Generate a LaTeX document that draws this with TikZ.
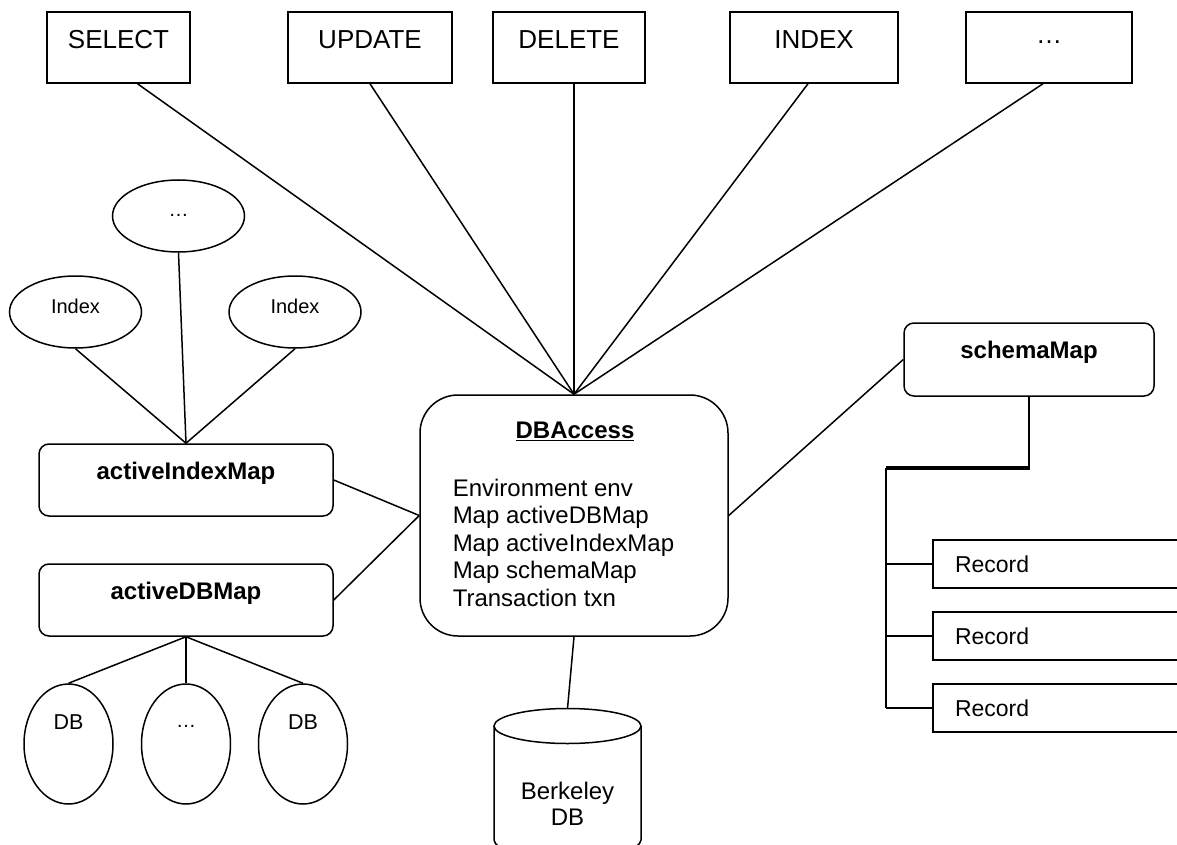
\documentclass[tikz,border=0pt]{standalone}
\usepackage{fontspec}
\setmainfont{Liberation Sans}
\usetikzlibrary{shapes.geometric,calc}
\begin{document}
\begin{tikzpicture}[x=1pt,y=-1pt,line width=1.5pt,
  opbox/.style={draw,rectangle,inner sep=0pt,minimum height=71pt},
  optext/.style={font=\fontsize{26}{30}\selectfont},
  mapbox/.style={draw,rectangle,rounded corners=10pt,inner sep=0pt,minimum width=294pt,minimum height=72pt},
  maptext/.style={font=\bfseries\fontsize{24}{28}\selectfont},
  idxell/.style={draw,ellipse,inner sep=0pt,minimum width=132pt,minimum height=72pt},
  dbell/.style={draw,ellipse,inner sep=0pt,minimum width=89pt,minimum height=120pt},
  recbox/.style={draw,rectangle,minimum height=48pt,text width=213pt,inner xsep=22pt,align=left,
    font=\fontsize{23}{27}\selectfont},
  link/.style={draw,line width=1.5pt}]
\path[use as bounding box,clip] (0,0) rectangle (1177,845);

% statement boxes along the top
\node[opbox,minimum width=143pt,label={[optext,yshift=7.5pt]center:SELECT}] (sel) at (118.5,47.5) {};
\node[opbox,minimum width=164pt,label={[optext,yshift=7.5pt]center:UPDATE}] (upd) at (370,47.5) {};
\node[opbox,minimum width=152pt,label={[optext,yshift=7.5pt]center:DELETE}] (del) at (569,47.5) {};
\node[opbox,minimum width=168pt,label={[optext,yshift=7.5pt]center:INDEX}] (idx) at (814,47.5) {};
\node[opbox,minimum width=166pt,label={[optext,yshift=5pt]center:…}] (more) at (1049,47.5) {};

% central access object
\node[draw,rectangle,rounded corners=38pt,minimum width=308pt,minimum height=241pt] (dba) at (574,515.5) {};
\node[font=\bfseries\fontsize{24}{28}\selectfont,inner sep=0pt] (dbatitle) at (575,431) {\underline{DBAccess}};
\node[anchor=north west,align=left,inner sep=0pt,font=\fontsize{24}{27.5}\selectfont] (dbafields) at (452,478)
  {Environment env\\Map activeDBMap\\Map activeIndexMap\\Map schemaMap\\Transaction txn};

% index map and its indexes
\node[idxell,label={[font=\fontsize{20}{24}\selectfont,yshift=6pt]center:Index}] (ixl) at (75.5,312) {};
\node[idxell,label={[font=\fontsize{20}{24}\selectfont,yshift=1pt]center:…}] (ixm) at (178.5,216) {};
\node[idxell,label={[font=\fontsize{20}{24}\selectfont,yshift=6pt]center:Index}] (ixr) at (295,312) {};
\node[mapbox,label={[maptext,yshift=7pt]center:activeIndexMap}] (aim) at (186,480) {};

% database map and its databases
\node[mapbox,label={[maptext,yshift=7pt]center:activeDBMap}] (adm) at (186,600) {};
\node[dbell,label={[font=\fontsize{21.5}{24}\selectfont,yshift=22pt]center:DB}] (dbl) at (68.5,744) {};
\node[dbell,label={[font=\fontsize{20}{24}\selectfont,yshift=18pt]center:…}] (dbm) at (186,744) {};
\node[dbell,label={[font=\fontsize{21.5}{24}\selectfont,yshift=22pt]center:DB}] (dbr) at (303,744) {};

% schema map and records
\node[draw,rectangle,rounded corners=10pt,inner sep=0pt,minimum width=250pt,minimum height=73pt,
  label={[maptext,yshift=7.5pt]center:schemaMap}] (sm) at (1029,359.5) {};
\node[recbox] (rec1) at (1061.5,564) {Record};
\node[recbox] (rec2) at (1061.5,636) {Record};
\node[recbox] (rec3) at (1061.5,708) {Record};

% Berkeley DB store
\draw (494,726) -- (494,840) arc[start angle=180,end angle=360,x radius=73.5pt,y radius=17.5pt] -- (641,726);
\draw (567.5,726) ellipse [x radius=73.5pt,y radius=17.5pt];
\coordinate (bdb) at (567.5,708.5);
\node[align=center,font=\fontsize{24}{26}\selectfont] (bdbtext) at (567.5,804) {Berkeley\\DB};

% connectors from the statements
\draw[link] ($(sel.south)+(19,0)$) -- (dba.north);
\draw[link] (upd.south) -- (dba.north);
\draw[link] ($(del.south)+(5,0)$) -- (dba.north);
\draw[link] ($(idx.south)+(-6,0)$) -- (dba.north);
\draw[link] ($(more.south)+(-6,0)$) -- (dba.north);

% index map
\draw[link] (ixl.south) -- (aim.north);
\draw[link] (ixm.south) -- (aim.north);
\draw[link] (ixr.south) -- (aim.north);
\draw[link] (aim.east) -- (dba.west);

% db map
\draw[link] (adm.east) -- (dba.west);
\draw[link] (adm.south) -- (dbl.north);
\draw[link] (adm.south) -- (dbm.north);
\draw[link] (adm.south) -- (dbr.north);

% store and schema map
\draw[link] (dba.south) -- (bdb);
\draw[link] (dba.east) -- (sm.west);
\coordinate (bend) at (1029,468);
\coordinate (trunk) at (886,468);
\draw[link] (sm.south) -- (bend);
\draw[line width=4pt] ($(bend)+(0.75,0)$) -- (trunk);
\draw[link] (trunk) -- (trunk |- rec3.west);
\draw[link] (trunk |- rec1.west) -- (rec1.west);
\draw[link] (trunk |- rec2.west) -- (rec2.west);
\draw[link] (trunk |- rec3.west) -- (rec3.west);
\end{tikzpicture}
\end{document}
